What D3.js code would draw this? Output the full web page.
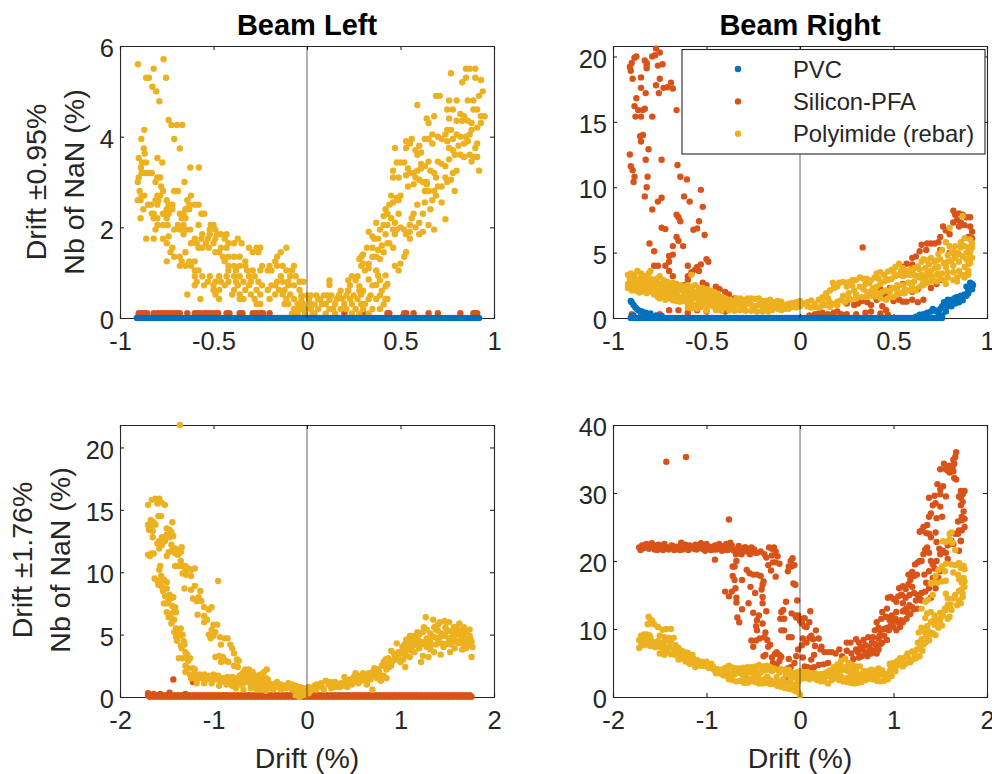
<!DOCTYPE html>
<html>
<head>
<meta charset="utf-8">
<script src="https://cdn.jsdelivr.net/npm/d3@7"></script>
<style>
  html, body { margin: 0; padding: 0; background: #fff; }
  svg { display: block; font-family: "Liberation Sans", Arial, sans-serif; }
</style>
</head>
<body>
<svg id="chart" width="992" height="774"></svg>
<script>
const seriesNames = ["PVC", "Silicon-PFA", "Polyimide (rebar)"];
const seriesColors = ["#0072BD", "#D95319", "#EDB120"];

const ticksSmallDrift = [-1, -0.5, 0, 0.5, 1];
const ticksLargeDrift = [-2, -1, 0, 1, 2];

// Beam Left, drift +-0.95
const leftSmallPvcX = [-.91,-.895,-.88,-.865,-.85,-.835,-.82,-.805,-.79,-.775,-.76,-.745,-.73,-.715,-.7,-.685,-.67,-.655,-.64,-.625,-.61,-.595,-.58,-.565,-.55,-.535,-.52,-.505,-.49,-.475,-.46,-.445,-.43,-.415,-.4,-.385,-.37,-.355,-.34,-.325,-.31,-.295,-.28,-.265,-.25,-.235,-.22,-.205,-.19,-.175,-.16,-.145,-.13,-.115,-.1,-.085,-.07,-.055,-.04,-.025,-.01,.005,.02,.035,.05,.065,.08,.095,.11,.125,.14,.155,.17,.185,.2,.215,.23,.245,.26,.275,.29,.305,.32,.335,.35,.365,.38,.395,.41,.425,.44,.455,.47,.485,.5,.515,.53,.545,.56,.575,.59,.605,.62,.635,.65,.665,.68,.695,.71,.725,.74,.755,.77,.785,.8,.815,.83,.845,.86,.875,.89,.905,.92];
const leftSmallSiliconX = [-.9,-.885,-.87,-.855,-.82,-.8,-.785,-.77,-.755,-.74,-.725,-.71,-.695,-.68,-.64,-.6,-.585,-.57,-.55,-.535,-.52,-.505,-.49,-.475,-.43,-.415,-.36,-.345,-.29,-.27,-.25,-.235,-.2,.2,.3,.43,.44,.52,.53,.57,.65,.7,.82,.89,.9,.91];
const leftSmallSiliconY = .107;
const leftSmallPoly = [
  [-.904,5.6],[-.82,5.5],[-.767,5.71],[-.86,5.3],[-.845,5.3],[-.754,5.3],[-.827,5.1],[-.806,5],[-.79,4.78],[-.74,4.37],[-.725,4.26],[-.695,4.26],[-.667,4.26],[-.87,4.15],[-.886,3.95],[-.71,3.95],[-.873,3.74],[-.68,3.74],[-.868,3.63],[-.9,3.53],[-.8,3.53],[-.882,3.43],[-.774,3.43],[-.86,3.43],[-.888,3.32],[-.624,3.32],[-.578,3.32],
  [-.9,3.1],[-.905,3],[-.885,3.2],[-.87,3.2],[-.855,3.2],[-.84,3.2],[-.83,3.2],[-.8,3.1],[-.785,3.1],[-.81,3],[-.655,3],[-.78,2.9],[-.895,2.8],[-.77,2.8],[-.71,2.8],[-.69,2.8],[-.885,2.7],[-.87,2.7],[-.8,2.7],[-.785,2.7],[-.62,2.7],
  [-.905,2.6],[-.89,2.6],[-.81,2.6],[-.795,2.6],[-.75,2.6],[-.64,2.6],[-.74,2.5],[-.72,2.5],[-.85,2.5],[-.835,2.5],[-.8,2.5],[-.63,2.5],[-.6,2.5],[-.58,2.5],[-.875,2.4],[-.75,2.4],[-.72,2.4],[-.65,2.4],[-.63,2.4],[-.83,2.3],[-.82,2.3],[-.77,2.3],[-.74,2.3],[-.68,2.3],[-.66,2.3],[-.565,2.3],[-.55,2.3],
  [-.89,2.2],[-.82,2.2],[-.8,2.2],[-.75,2.2],[-.67,2.2],[-.65,2.2],[-.8,2.05],[-.77,2.05],[-.745,2.05],[-.69,2.05],[-.66,2.05],[-.58,2.05],[-.515,2.05],[-.5,2.05],[-.81,1.95],[-.71,1.95],[-.68,1.95],[-.65,1.95],[-.625,1.95],[-.52,1.95],[-.49,1.95],[-.56,1.85],[-.52,1.85],[-.48,1.85],[-.46,1.85],[-.43,1.85],
  [-.86,1.75],[-.82,1.75],[-.77,1.75],[-.74,1.8],[-.66,1.85],[-.6,1.75],[-.565,1.75],[-.53,1.75],[-.49,1.75],[-.44,1.75],[-.37,1.75],[-.62,1.65],[-.59,1.65],[-.54,1.65],[-.5,1.65],[-.42,1.65],[-.39,1.65],[-.35,1.65],
  [-.75,1.65],[-.72,1.55],[-.58,1.55],[-.56,1.55],[-.525,1.55],[-.46,1.55],[-.43,1.55],[-.31,1.55],[-.27,1.55],[-.25,1.55],[-.73,1.45],[-.65,1.45],[-.49,1.45],[-.47,1.45],[-.26,1.45],[-.29,1.45],[-.11,1.55],[-.14,1.45],
  [-.71,1.35],[-.68,1.35],[-.45,1.35],[-.42,1.35],[-.39,1.35],[-.36,1.35],[-.16,1.35],[-.75,1.25],[-.67,1.25],[-.63,1.25],[-.6,1.25],[-.44,1.25],[-.33,1.25],[-.17,1.25],[-.68,1.15],[-.65,1.15],[-.62,1.15],[-.42,1.15],[-.39,1.15],[-.36,1.15],[-.33,1.15],[-.24,1.15],[-.2,1.15],[-.16,1.15],[-.13,1.15],[-.07,1.15],
  [-.6,1.05],[-.58,1.05],[-.42,1.05],[-.38,1.05],[-.32,1.05],[-.29,1.05],[-.25,1.05],[-.21,1.05],[-.19,1.05],[-.11,1.05],[-.08,1.05],[-.6,.92],[-.56,.92],[-.52,.92],[-.47,.92],[-.43,.92],[-.39,.92],[-.36,.92],[-.31,.92],[-.28,.92],[-.14,.92],[-.09,.92],[-.06,.92],
  [-.59,.8],[-.53,.8],[-.49,.8],[-.46,.8],[-.42,.8],[-.38,.8],[-.34,.8],[-.3,.8],[-.26,.8],[-.16,.8],[-.13,.8],[-.1,.8],[-.04,.8],[-.02,.8],[-.6,.72],[-.55,.72],[-.5,.72],[-.44,.72],[-.37,.72],[-.31,.72],[-.24,.72],[-.19,.72],[-.17,.72],[-.1,.72],[-.07,.72],
  [-.5,.62],[-.47,.62],[-.39,.62],[-.33,.62],[-.27,.62],[-.21,.62],[-.15,.62],[-.12,.62],[-.04,.62],[-.49,.52],[-.4,.52],[-.36,.52],[-.3,.52],[-.25,.52],[-.17,.52],[-.13,.52],[-.09,.52],[-.03,.5],[0,.5],[.02,.5],[-.64,.52],[-.57,.42],[-.47,.42],[-.36,.42],[-.34,.42],[-.28,.42],[-.2,.42],[-.11,.42],[-.07,.42],[-.03,.42],[.01,.42],[-.27,.31],[-.25,.31],[-.12,.31],[-.1,.31],[-.05,.31],[-.02,.31],[.02,.31],[-.07,.2],[-.05,.2],[-.03,.2],[-.01,.2],[.02,.2],[-.08,.1],[-.05,.1],[-.01,.1],[.03,.1],
  [.05,.5],[.07,.4],[.09,.5],[.1,.31],[.12,.4],[.13,.5],[.14,.2],[.15,.31],[.16,.42],[.17,.5],[.18,.6],[.19,.42],[.2,.31],[.21,.5],[.22,.6],[.23,.42],[.24,.31],[.25,.5],[.26,.2],[.27,.42],[.28,.6],[.29,.31],[.04,.1],[.06,.2],[.08,.31],[.1,.1],[.12,.2],[.15,.1],[.18,.2],[.21,.2],[.24,.1],[.28,.1],[.3,.2],[.31,.31],[.11,.5],[.12,.73],[.12,.83],[.06,.42],[.04,.3],
  [.22,.6],[.23,.72],[.22,.83],[.24,.92],[.26,.83],[.27,.92],[.28,.7],[.3,.6],[.31,1.05],[.29,.52],[.33,.85],[.35,.72],[.33,.42],[.34,.5],[.35,.2],[.33,.1],[.37,.42],[.39,.5],[.4,.6],[.41,.3],[.42,.42],[.39,.2],[.37,.73],[.39,.83],[.38,.94],[.42,.94],[.43,.42],[.42,.7],[.43,.75],[.37,1.05],[.33,1.2],[.28,1.3],[.29,1.35],[.3,1.4],[.3,1.2],[.33,1.1],[.35,1.35],[.35,1.55],[.32,1.55],[.29,1.15],[.33,1.9],[.35,1.8],[.36,1.75],[.38,1.75],[.37,2.1],[.39,1.95],[.41,2.05],[.43,2.05],[.42,1.85],[.4,1.6],[.38,1.5],[.37,1.35],[.39,1.3],[.41,1.45],[.43,1.65],[.44,1.65],[.46,1.95],[.47,1.15],[.49,1.05],[.5,1.2],[.52,1.35],[.46,1.55],[.48,1.95],[.47,1.85],[.53,1.45],
  [.42,2.4],[.44,2.5],[.46,2.55],[.43,2.3],[.45,2.2],[.47,2.1],[.41,2.25],[.45,2.7],[.48,2.65],[.49,2.6],[.5,2.7],[.49,2.3],[.5,2],[.52,1.95],[.53,1.85],[.55,1.9],[.55,2.05],[.56,2.2],[.57,2.3],[.58,2],[.6,2.1],[.62,1.9],[.65,2.05],[.68,1.95],[.6,1.85],[.55,1.75],[.54,2.9],[.59,2.5],[.57,2.95],[.62,2.3],[.66,2.4],[.63,2.55],[.65,2.8],[.63,2.8],[.68,2.8],[.7,2.9],[.72,2.9],[.69,2.7],[.72,2.55],[.74,2.18],[.67,2.6],[.64,2.95],
  [.46,3.1],[.46,3.25],[.48,3.43],[.5,3.43],[.52,3.43],[.54,3.3],[.55,3.2],[.57,3.2],[.49,3.1],[.47,3.75],[.53,3.75],[.53,3.15],[.58,3.1],[.59,3.25],[.6,3.05],[.61,3.3],[.62,3],[.64,3],[.61,3.4],[.63,3.35],[.65,3.45],[.66,3.25],[.68,3.2],[.69,3.1],[.7,3.45],[.72,3.4],[.74,3.35],[.74,3.1],[.75,3],[.77,3.05],[.79,2.8],[.78,3.2],[.8,3.25],[.76,3.5],[.79,3.6],[.82,3.6],[.84,3.55],[.76,3.75],[.78,3.7],[.81,3.8],
  [.53,3.9],[.55,3.85],[.56,3.95],[.58,3.7],[.6,3.8],[.59,3.6],[.61,3.65],[.63,3.95],[.65,3.95],[.67,3.85],[.67,4.05],[.7,4],[.72,3.95],[.74,4.05],[.75,3.9],[.78,3.95],[.8,4.05],[.82,4],[.85,4],[.86,3.9],[.87,3.6],[.89,3.55],[.88,3.45],[.91,3.55],[.92,3.25],[.9,3.75],[.91,3.85],[.88,4.15],[.91,4.2],[.93,4.3],
  [.59,4.7],[.64,4.4],[.65,4.3],[.68,4.45],[.69,4.9],[.71,4.9],[.76,4.4],[.75,4.15],[.77,4.15],[.76,4.8],[.75,4.6],[.78,4.6],[.8,4.8],[.82,4.5],[.84,4.45],[.8,4.35],[.83,4.35],[.86,4.35],[.88,4.3],[.89,4.6],[.91,4.6],[.93,4.45],[.95,4.45],[.86,4.8],[.89,4.8],[.92,4.9],[.94,5],[.77,5.4],[.85,5.3],[.87,5.5],[.83,5.2],[.9,5.3],[.93,5.25],[.9,5.5],[.85,5.5],[.87,4.05],[.84,3.85]
];

// Beam Right, drift +-0.95
const rightSmallPvcFlatX = [-.905,-.89,-.875,-.86,-.845,-.83,-.815,-.8,-.785,-.77,-.755,-.74,-.725,-.71,-.695,-.68,-.665,-.65,-.635,-.62,-.605,-.59,-.575,-.56,-.545,-.53,-.515,-.5,-.485,-.47,-.455,-.44,-.425,-.41,-.395,-.38,-.365,-.35,-.335,-.32,-.305,-.29,-.275,-.26,-.245,-.23,-.215,-.2,-.185,-.17,-.155,-.14,-.125,-.11,-.095,-.08,-.065,-.05,-.035,-.02,-.005,.01,.025,.04,.055,.07,.085,.1,.115,.13,.145,.16,.175,.19,.205,.22,.235,.25,.265,.28,.295,.31,.325,.34,.355,.37,.385,.4,.415,.43,.445,.46,.475,.49,.505,.52,.535,.55,.565,.58,.595,.61,.625,.64,.655,.67,.685,.7,.715,.73,.745,.76];
const rightSmallPvc = [
  [-.905,1.3],[-.9,1.2],[-.89,1],[-.88,.8],[-.87,.65],[-.86,.55],[-.845,.5],[-.825,.4],[-.8,.35],[-.77,.2],[-.74,.15],[-.9,.1],[-.89,.2],
  [.62,.1],[.64,.25],[.66,.3],[.68,.4],[.7,.5],[.71,.7],[.72,.6],[.73,.5],[.74,.45],[.75,.7],[.76,.9],[.77,1.2],[.78,1.2],[.79,.9],[.78,.5],[.76,.2],[.79,1.4],[.8,1.1],[.81,1.4],[.82,1.3],[.83,1.55],[.84,1.6],[.85,1.5],[.86,1.7],[.87,1.6],[.88,1.8],[.89,2.4],[.9,1.9],[.89,1.7],[.9,2.1],[.91,2.7],[.92,2.6],[.925,2.5],[.92,2.2],[.91,2.35],[.85,1.2],[.87,1.35],[.83,1.1],[.81,.9]
];
const rightSmallSilicon = [
  [-.91,19.2],[-.905,18.9],[-.9,19.5],[-.895,18.3],[-.885,19.9],[-.875,20],[-.85,18.4],[-.85,17.6],[-.83,19.7],[-.82,19.3],[-.82,19.1],[-.82,19.5],[-.79,20],[-.775,20.1],[-.77,20.6],[-.75,20.3],[-.76,19.3],[-.735,19.4],[-.75,18.3],[-.77,17.8],[-.755,17.2],[-.73,17.6],[-.71,17.65],[-.69,18],[-.68,17.55],[-.66,15.9],
  [-.875,16.8],[-.825,17.2],[-.885,16.2],[-.865,15.9],[-.84,15.9],[-.83,16],[-.88,15.4],[-.85,15.4],[-.79,15.4],[-.855,13.9],[-.84,14],[-.85,13.5],[-.81,12.9],[-.91,12.5],[-.825,12.1],[-.74,12.1],[-.905,11.6],[-.895,11.3],[-.885,10.8],[-.815,10.8],[-.89,10.4],[-.82,10],[-.655,11.7],[-.64,10.8],[-.605,10.6],[-.53,9.8],[-.62,9.3],[-.83,9.3],[-.74,9.2],[-.76,8.9],[-.59,8.9],[-.52,8.5],[-.79,8.3],[-.66,7.9],[-.65,7.7],[-.64,7.4],[-.54,7.4],[-.57,6.75],[-.55,6.85],[-.74,6.9],[-.72,6.8],[-.66,6.2],[-.65,5.9],[-.68,5.5],[-.625,5.5],[-.51,6.35],[-.805,5.7],[-.78,5.1],[-.7,4.75],[-.68,4.85],
  [-.78,4],[-.76,4],[-.72,4],[-.7,4.3],[-.5,4.5],[-.49,4.3],[-.6,4],[-.55,3.9],[-.56,3.7],[-.53,4.1],[-.6,3.2],[-.58,3.5],[-.54,3.6],[-.7,3.6],[-.68,3.2],[-.52,2.7],[-.5,2.5],[-.6,2.9],[-.62,2.5],[-.45,2.4],[-.43,2.2],[-.4,2],[-.38,1.8],[-.35,1.5],[-.32,1.3],[-.65,.6],[-.6,.4],[-.55,.6],[-.7,.6],[-.75,.3],[-.85,.3],[-.9,.3],[-.5,.5],[-.4,.5],
  [.335,5.4],[.82,8.2],[.83,7.9],[.85,8],[.87,7.9],[.89,7.7],[.91,7.7],[.84,7.5],[.86,7.3],[.88,7.1],[.82,7.3],[.85,7],[.91,7],[.92,6.6],[.9,6.2],[.92,6.1],[.765,7],[.78,6.7],[.8,6.4],[.75,6.2],[.74,5.8],[.72,5.7],[.7,5.7],[.68,5.7],[.65,5.6],[.675,5.2],[.64,5.1],[.62,4.7],[.6,4.6],[.57,4.15],[.6,4.1],[.55,3.9],[.75,5.2],[.8,5],[.83,4.7],
  [.27,1.4],[.25,1.1],[.29,1],[.31,1.1],[.33,1.3],[.36,1.2],[.38,1],[.41,1.4],[.44,1.6],[.46,1.9],[.43,2.2],[.48,2.3],[.5,1.3],[.53,1.4],[.55,1.25],[.57,1.25],[.6,1.4],[.63,1.2],[.66,1.4],[.44,.9],[.46,.6],[.43,.35],[.38,.5],[.35,.4],[.1,.35],[.15,.3],[.18,.4],[.22,.3],[.3,.3],[.05,.2],[.08,.3],[.12,.4],[.2,.5],[.25,.3],[.47,.25],[.52,2.4],[.55,2.6],[.6,2],[.63,2.2],[.66,2.6],[.7,2.3],[.73,2.6],[.76,2.9]
];
const rightSmallPoly = [
  [-.92,3.3],[-.905,3.4],[-.885,3.3],[-.87,3.6],[-.85,3.4],[-.83,3.2],[-.81,3.4],[-.8,3.6],[-.91,3],[-.895,3],[-.875,2.9],[-.855,3],[-.84,2.9],[-.82,3],[-.8,3],[-.785,2.9],[-.765,3],[-.75,3.2],[-.73,2.9],[-.71,2.75],[-.92,2.6],[-.9,2.7],[-.88,2.6],[-.86,2.7],[-.84,2.5],[-.82,2.6],[-.8,2.6],[-.78,2.5],[-.76,2.6],[-.74,2.6],[-.72,2.5],[-.7,2.6],[-.68,2.7],[-.66,2.6],[-.64,2.5],[-.62,2.4],[-.6,2.5],[-.58,3.3],[-.92,2.3],[-.9,2.3],[-.88,2.1],[-.86,2.3],[-.84,2.2],[-.82,2.3],[-.8,2.2],[-.78,2.3],[-.76,2.1],[-.74,2.3],[-.72,2.2],[-.7,2.3],[-.68,2.1],[-.66,2.3],[-.64,2.3],[-.62,2.3],[-.6,2.2],[-.58,2.4],[-.56,2.5],[-.54,2.3],[-.52,2.3],[-.5,2.2],[-.48,2.1],[-.46,2],[-.44,1.85],[-.42,1.6],[-.4,1.5],
  [-.85,2],[-.82,1.9],[-.78,1.8],[-.76,1.9],[-.74,1.7],[-.72,1.8],[-.7,1.9],[-.68,1.9],[-.66,1.8],[-.64,1.6],[-.62,1.8],[-.6,1.5],[-.58,1.7],[-.56,1.7],[-.54,1.8],[-.52,1.7],[-.5,1.7],[-.48,1.8],[-.46,1.7],[-.44,1.5],[-.42,1.3],[-.4,1.2],[-.75,1.5],[-.72,1.4],[-.7,1.5],[-.68,1.35],[-.66,1.3],[-.64,1.25],[-.62,1.3],[-.6,1.1],[-.58,1],[-.56,1],[-.54,1.25],[-.52,1.1],[-.5,1],[-.48,.95],[-.46,1.2],[-.44,1],[-.42,.9],[-.4,.85],
  [-.38,1.4],[-.36,1.3],[-.34,1.5],[-.32,1.5],[-.3,1.4],[-.28,1.5],[-.26,1.5],[-.24,1.45],[-.22,1.5],[-.2,1.3],[-.18,1.3],[-.16,1.4],[-.14,1.2],[-.12,1.3],[-.1,1.25],[-.38,1],[-.36,.9],[-.34,1.1],[-.32,1],[-.3,.9],[-.28,1.1],[-.26,1],[-.24,.9],[-.22,1],[-.2,.8],[-.18,.9],[-.16,.8],[-.14,.75],[-.12,.7],[-.1,.6],[-.08,1],[-.06,1.1],[-.04,1.15],[-.02,1.2],[-.08,.7],[-.06,.7],[-.04,.85],[-.02,.8],[-.38,.6],[-.35,.55],[-.32,.6],[-.29,.55],[-.26,.55],[-.23,.5],[-.2,.5],[-.17,.5],[-.5,.55],[-.45,.6],[-.42,.55],[-.55,.7],[-.6,.8],
  [-.9,2.1],[-.88,2.4],[-.86,1.95],[-.83,2.7],[-.8,2.8],[-.77,2.8],[-.72,2.7],[-.69,2.4],[-.66,2],[-.63,2.1],[-.6,1.9],[-.57,2],[-.54,2],[-.51,1.9],[-.48,1.5],[-.45,1.4],[-.42,1.1],[-.39,1.2],[-.7,2.05],[-.73,2],[-.76,1.6],[-.8,2.05],[-.68,1.6],[-.65,1.45],[-.62,1.55],[-.58,1.4],[-.55,1.5],[-.52,1.4],[-.49,1.3],[-.46,.9],[-.43,.75],[-.53,.85],[-.58,.75],[-.35,.75],[-.3,.7],[-.25,.75],[-.2,.65],[-.15,.6],[-.12,1],[-.1,.95],[-.33,1.25],[-.27,1.25],[-.21,1.2],[-.15,1],[-.3,1.2],[-.38,1.2],
  [0,.9],[0,1.3],[.02,1.1],[.04,1.2],[.06,1.35],[.08,1.1],[.1,1.4],[.12,1.6],[.14,1.9],[.16,2.1],[.176,2.7],[.19,2.5],[.21,2.7],[.23,2.75],[.25,2.7],[.267,2.76],[.28,2.9],[.3,2.9],[.32,3.1],[.34,3],[.356,3],[.38,2.9],[.4,3.1],[.41,3.4],[.43,3.5],[.45,3.3],[.47,3.55],[.49,3.7],[.51,3.9],[.53,4.15],[.55,3.8],[.57,3.6],[.59,3.7],[.61,3.8],[.63,3.95],[.65,4.3],[.66,4.5],[.68,4.4],[.7,4.6],[.72,4.3],[.74,4.9],[.76,5.2],[.78,5.8],[.8,5.5],[.82,5.1],[.84,5],[.86,5.4],[.88,6.1],[.91,6],[.92,5.7],[.87,7.8],[.8,6.9],
  [.04,.9],[.06,.8],[.08,.85],[.1,.8],[.12,.95],[.14,1],[.16,.86],[.18,1.05],[.2,1.25],[.22,1.37],[.23,1.7],[.26,1.9],[.29,2.1],[.32,2.4],[.34,2.2],[.37,2],[.39,2.3],[.41,2.4],[.43,2.6],[.45,2.8],[.47,2.9],[.49,3],[.51,3.2],[.53,3.3],[.55,3.2],[.57,3.3],[.59,3.3],[.61,3.3],[.63,3.2],[.65,3.3],[.68,3.4],[.7,3.6],[.72,3.8],[.74,3.9],[.77,4.2],[.79,4.3],[.81,4.4],[.83,4.6],[.85,4.9],[.87,4.7],[.89,5],[.91,5.1],[.92,5.4],
  [.24,1.2],[.27,1.4],[.3,1.5],[.33,1.6],[.356,1.6],[.38,1.7],[.4,1.65],[.43,1.5],[.46,1.4],[.48,1.6],[.5,1.6],[.52,1.8],[.54,1.9],[.56,1.9],[.58,2.1],[.6,2.1],[.62,2.1],[.64,2.4],[.66,2.5],[.68,2.7],[.71,2.9],[.73,2.8],[.75,3],[.77,2.9],[.79,3.1],[.82,2.9],[.84,3.1],[.86,3.3],[.88,3.3],[.9,3.6],[.91,4.2],[.92,4.6],[.9,4.1],[.88,3.9],[.85,3.6],[.82,3.5],[.79,3.5],[.76,3.4],[.73,3.3],[.7,3.2],[.67,3.1],[.64,3.1],[.61,2.8],[.58,2.7],[.55,2.5],[.52,2.5],[.49,2.3],[.46,2.1],[.43,1.9],
  [.12,1.2],[.15,1.5],[.18,2.3],[.2,2.4],[.25,2.4],[.28,2.5],[.35,2.6],[.37,2.7],[.42,3],[.46,3],[.5,3.5],[.54,3.6],[.6,3.5],[.64,3.7],[.67,3.8],[.69,4.1],[.73,4.4],[.75,4.5],[.79,4.8],[.81,5],[.83,5.5],[.86,5.8],[.88,5.5],[.9,5.4],[.91,4.7],[.89,4.5],[.85,4.3],[.82,4],[.78,3.9],[.74,3.4],[.7,2.8],[.66,2.8],[.6,2.4],[.56,2.2],[.52,2.1],[.48,2],[.44,2],[.4,2],[.36,1.9],[.3,1.8],[.26,1.5],[.2,1],[.16,1.2],[.78,2.6],[.84,2.8],[.88,3.1],[.9,3.3]
];

// Beam Left, drift +-1.76
const leftLargeSiliconLowX = [-1.68,-1.64,-1.6,-1.56,-1.52,-1.48,-1.44,-1.4,-1.36,-1.32,-1.28,-1.24,-1.2,-1.16,-1.12,-1.08,-1.04,-1,-.96,-.92,-.88,-.84,-.8,-.76,-.72,-.68,-.64,-.6,-.56,-.52,-.48,-.44,-.4,-.36,-.32,-.28,-.24,-.2,-.16,-.12,-.08,-.04,0,.04,.08,.12,.16,.2,.24,.28,.32,.36,.4,.44,.48,.52,.56,.6,.64,.68,.72,.76,.8,.84,.88,.92,.96,1,1.04,1.08,1.12,1.16,1.2,1.24,1.28,1.32,1.36,1.4,1.44,1.48,1.52,1.56,1.6,1.64,1.68,1.72,1.76];
const leftLargeSiliconHighX = [-1.7,-1.66,-1.62,-1.58,-1.54,-1.5,-1.46,-1.42,-1.38,-1.34,-1.3,-1.26,-1.22,-1.18,-1.14,-1.1,-1.06,-1.02,-.98,-.94,-.9,-.86,-.82,-.78,-.74,-.7,-.66,-.62,-.58,-.54,-.5,-.46,-.42,-.38,-.34,-.3,-.26,-.22,-.18,-.14,-.1,-.06,-.02,.02,.06,.1,.14,.18,.22,.26,.3,.34,.38,.42,.46,.5,.54,.58,.62,.66,.7,.74,.78,.82,.86,.9,.94,.98,1.02,1.06,1.1,1.14,1.18,1.22,1.26,1.3,1.34,1.38,1.42,1.46,1.5,1.54,1.58,1.62,1.66,1.7,1.74];
const leftLargeSiliconOutliers = [[-1.43,1.4],[-1.22,1.2],[-1.7,.3],[-1.64,.25],[-1.57,.25],[-1.47,.35],[-1.3,.25]];
const leftLargePoly = [
  [-1.36,21.8],[-1.7,15.4],[-1.66,15.8],[-1.62,15.9],[-1.58,15.9],[-1.56,15.6],[-1.52,15.4],[-1.6,15.5],[-1.67,14.2],[-1.64,14],[-1.7,13.8],[-1.66,13.7],[-1.62,13.8],[-1.69,13.4],[-1.65,13.3],[-1.59,14.5],[-1.56,14.5],[-1.65,12.8],[-1.55,12.8],[-1.5,13.5],[-1.47,13.4],[-1.45,13.2],[-1.5,13],[-1.47,12.8],[-1.43,12.9],[-1.55,12.2],[-1.6,12.3],[-1.58,12.5],[-1.52,12.5],[-1.45,12.2],[-1.41,11.9],[-1.38,11.8],[-1.34,12],[-1.35,11.6],[-1.38,11.4],[-1.41,11.5],[-1.45,11.7],[-1.48,11.6],[-1.5,11.3],[-1.7,11.4],[-1.68,11.3],[-1.66,11.5],[-1.64,11.5],[-1.58,11.9],[-1.44,14],[-1.35,10.9],[-1.41,10.5],[-1.37,10.5],[-1.33,10.5],[-1.3,10.5],[-1.27,10.3],[-1.24,10.2],[-1.2,10.3],[-1.3,10.2],[-1.57,10.5],[-1.58,10.2],[-1.6,9.3],[-1.56,9.7],[-1.53,9.4],[-1.5,9.2],[-1.57,9.2],[-1.55,8.8],[-1.5,8.7],[-1.47,8.2],[-1.43,8],[-1.48,7.8],[-1.53,7.5],[-1.49,7.5],[-1.44,7.3],[-1.41,7.2],[-1.43,6.8],[-1.4,6.8],[-1.46,6.5],[-1.48,6.4],[-1.45,5.9],[-1.4,5.5],[-1.35,5.5],[-1.42,5.2],[-1.38,5],[-1.36,4.9],[-1.39,4.5],[-1.35,4.1],[-1.31,4.2],[-1.34,3.9],[-1.37,3.1],[-1.33,3.1],[-1.28,3.1],[-1.25,3.1],[-1.3,2.5],[-1.27,2.3],[-1.22,2.3],[-1.3,2],[-1.25,1.8],[-1.2,1.8],
  [-1.33,9.9],[-1.29,9.8],[-1.24,9.7],[-1.31,8.7],[-1.24,8.6],[-1.2,8.9],[-1.14,8.5],[-1.16,8],[-1.22,7.9],[-1.18,7.7],[-1.13,7.7],[-1.1,7.2],[-1.05,7],[-1.02,7.2],[-.95,9.3],[-1.17,6.6],[-1.1,6.5],[-1.07,6.2],[-1.1,6],[-1,5.8],[-.96,5.8],[-1.02,5.4],[-1.05,5],[-1,4.9],[-1.03,4.7],[-.98,5.2],[-.93,4.8],[-.88,4.7],[-.85,4.7],[-.92,4.2],[-.82,4.2],[-.8,3.9],[-.78,3.5],[-.98,3.2],[-.94,3.3],[-.9,3.2],[-.92,2.8],[-.87,2.9],[-.84,2.8],[-.75,3],[-.73,2.9],[-.78,2.5],[-.74,2.4],
  [-1.63,9.5],[-1.59,9],[-1.54,8.5],[-1.52,8.1],[-1.46,7.9],[-1.42,6.2],[-1.5,6.8],[-1.44,6.2],[-1.37,5.3],[-1.33,5],[-1.4,4.8],[-1.32,4.5],[-1.3,3.6],[-1.28,3.4],[-1.27,2.9],[-1.2,2.2],[-1.15,1.8],[-1.1,1.8],[-1.05,1.7],[-1,1.8],[-.95,1.7],[-.9,1.5],[-.85,1.6],[-.8,1.6],[-.75,1.2],[-.7,1.3],[-.65,1.5],[-.6,1.3],[-.55,1.1],[-.5,1.2],[-.45,1.2],[-.4,.7],[-.35,.8],[-.3,.8],[-.25,.7],[-.2,.8],[-.15,.7],[-.6,.9],[-.5,.6],[-.42,1.4],[-.48,1.6],[-.62,1.9],[-.56,1.6],[-.66,1.4],
  [-1.24,1.5],[-1.2,1.5],[-1.16,1.5],[-1.12,1.5],[-1.08,1.4],[-1.04,1.5],[-1,1.4],[-.96,1.4],[-.92,1.3],[-.88,1.2],[-.84,1.3],[-.8,1.2],[-.76,1.5],[-.72,1.7],[-.7,1.8],[-.68,2],[-.66,2.2],[-.62,2.2],[-.58,2],[-.54,1.7],[-.5,1.8],[-.46,2],[-.43,2.2],[-.68,1.6],[-.64,1.7],[-.6,1.6],[-.56,1.3],[-.52,1.4],[-.48,1.4],[-.44,1.5],[-1.18,1.1],[-1.1,1.1],[-1.02,1.1],[-.94,.9],[-.86,1],[-.8,.9],[-.76,.9],[-.72,1],[-.68,1.1],[-.64,1.2],[-.6,1.1],[-.56,1],[-.52,.9],[-.48,.9],[-.44,.8],[-.4,1.1],[-.36,1],[-.32,1.2],[-.28,1],[-.24,.9],[-.2,1.1],[-.16,1],[-.12,.9],[-.08,.8],[-.04,.7],[-.76,.7],[-.68,.6],[-.6,.7],[-.54,.6],[-.44,.5],[-.36,.6],[-.28,.6],[-.22,.7],[-.16,.6],[-.12,.5],[-.08,.5],[-.04,.4],[-.1,.3],[-.12,.15],[-.08,0],[-.06,.1],[-.02,.2],[.02,.3],[.04,.5],
  [0,.7],[.02,.8],[.05,.6],[.08,.9],[.1,.6],[.13,.9],[.16,.8],[.18,.6],[.2,1.3],[.23,1],[.26,.7],[.28,1.1],[.3,.8],[.33,.8],[.36,1.1],[.38,.9],[.41,1.2],[.44,1.2],[.46,1.4],[.48,1],[.43,.8],[.5,1.6],[.53,1.5],[.55,1.1],[.57,1.7],[.6,1.9],[.62,1.4],[.64,1],[.66,1.9],[.68,1.4],[.7,.6],[.7,2],[.72,2.3],[.75,1.5],[.77,2],[.79,1.3],[.8,2.5],[.82,2.8],[.84,3],[.85,2.2],[.87,3.1],[.85,1.5],[.88,2.4],[.9,3.7],[.92,2.9],[.94,3.3],[.96,4.3],[.98,3.6],[1,2.8],[1.02,4],[1.03,3],[1.05,2.4],[1.06,4.6],[1.08,3.8],[1.1,4.9],[1.1,3.2],[1.13,4.1],[1.15,3.6],[1.17,4.7],[1.18,5.2],[1.2,3.9],[1.22,2.8],[1.24,4.4],[1.25,5.6],[1.27,6.4],[1.28,4.7],[1.3,3.2],[1.32,5.1],[1.33,4.2],[1.35,6.2],[1.36,3.6],[1.38,5.4],[1.4,4.6],[1.42,6],[1.43,3.4],[1.45,5.1],[1.47,6.1],[1.48,4.2],[1.5,5.3],[1.52,6],[1.53,3.6],[1.55,4.6],[1.57,5.6],[1.58,3.9],[1.6,5],[1.62,4.3],[1.63,5.9],[1.65,4.7],[1.66,3.8],[1.68,5.6],[1.7,4.9],[1.72,4.2],[1.74,5.4],[1.75,4.6],[1.76,3.2],[1.77,4],
  [.95,3],[1,3.5],[1.05,3.4],[1.12,4.5],[1.15,4.2],[1.2,4.5],[1.24,3.3],[1.28,4],[1.32,4.4],[1.36,4.8],[1.4,5.3],[1.44,4.3],[1.48,4.9],[1.52,4.7],[1.56,4.9],[1.6,4.4],[1.64,5],[1.68,4.4],[1.72,4.7],[1.76,4.4],[1.74,4.9],[1.7,3.9],
  [.1,1],[.15,1.1],[.25,1.2],[.3,1.2],[.35,.8],[.4,1.6],[.45,1],[.5,1.2],[.52,1.9],[.55,1.4],[.58,1.3],[.6,1.5],[.62,1.7],[.65,1.4],[.68,1.8],[.72,1.7],[.74,1.9],[.76,2.2],[.78,1.6],[.82,1.7],[.85,2.5],[.88,2.9],[.9,2.5],[.93,3.5],[.96,3.4],[1,3],[1.02,3.6],[1.04,4.2],[1.06,3.3],[1.08,4.4],[1.1,4],[1.12,3.7],[1.14,4.9],[1.16,4.3],[1.18,4.2],[1.2,5],[1.22,4.2],[1.24,5.2],[1.26,4.2],[1.28,5.4],[1.3,4.6],[1.32,3.8],[1.34,4.9],[1.36,5.6],[1.38,4.2],[1.4,5.8],[1.42,4.8],[1.44,4.9],[1.46,4],[1.48,5.6],[1.5,4.3],[1.52,5.3],[1.54,4.2],[1.56,5.3],[1.58,4.6],[1.6,5.6],[1.62,5.2],[1.64,4.4],[1.66,5.4],[1.68,4],[1.7,5.2],[1.72,4.4]
];

// Beam Right, drift +-1.76
const rightLargeSiliconBandX = [-1.72,-1.69,-1.66,-1.63,-1.6,-1.57,-1.54,-1.51,-1.48,-1.45,-1.42,-1.39,-1.36,-1.33,-1.3,-1.27,-1.24,-1.21,-1.18,-1.15,-1.12,-1.09,-1.06,-1.03,-1,-.97,-.94,-.91,-.88,-.85,-.82,-.79,-.76,-.73,-.7,-.67,-.64,-.61,-.58,-.55,-.52,-.49];
const rightLargeSiliconBandY = [22,22.3,22,22.4,22.2,22,22.3,22.4,22,22.5,22,21.9,22.2,21.8,22.1,22.7,22,22,22.3,22,22.4,22.3,22.6,22.1,22.5,22.1,22,22.3,22,22.2,22.1,22.5,21.9,22.3,21.5,21.8,21.7,21.4,22,21.6,22,21.7];
const rightLargeSiliconBandLowY = [21.6,21.9,22.5,21.8,22.6,21.7,21.6,22,21.6,22,21.7,22.3,21.6,22.1,21.6,21.7,22.4,21.6,22,21.8,21.7,22,21.8,21.5,22,21.6,21.7,21.7,22.5,21.5,21.7,21.6,22.7,21.6,21,22.2,21,22,21.4,21,21.3,21.2];
const rightLargeSilicon = [
  [-1.43,34.6],[-1.22,35.3],[-.76,26.1],[-.91,20.2],[-.46,21.2],[-.42,21.4],[-.38,21],[-.36,20.5],[-.33,22],[-.3,21.8],[-.28,22],[-.26,21.4],[-.24,20.7],[-.3,20.8],[-.34,19.4],[-.29,19.8],[-.26,19.8],[-.22,19.6],[-.31,18.6],[-.26,17.7],
  [-.68,20],[-.7,19.2],[-.72,19.2],[-.72,17.8],[-.7,17.2],[-.62,17.2],[-.57,18.7],[-.54,18.2],[-.5,18],[-.46,18],[-.42,17.8],[-.4,16.5],[-.39,17],[-.41,15.8],[-.53,16.2],[-.48,15.3],[-.69,16],[-.73,15.5],[-.8,15.5],[-.76,14.8],[-.68,14.6],[-.68,13.9],[-.55,13.8],[-.4,14.7],[-.4,13.8],[-.62,12.9],[-.36,12.6],[-.5,12.4],[-.67,11.7],[-.65,11],[-.44,12],[-.46,11.3],[-.47,10.4],[-.46,9.8],[-.4,10.8],[-.37,9.5],[-.52,8.3],[-.47,8.3],[-.43,8.6],[-.38,8.8],[-.35,8.4],[-.32,7.7],[-.5,7.4],[-.34,7.4],
  [-.39,6],[-.37,6.2],[-.3,5.8],[-.27,6.3],[-.25,6.6],[-.22,6.2],[-.2,5.9],[-.29,5],[-.25,4.8],[-.22,5.3],[-.12,5.6],[-.13,4.2],[-.1,4.4],[-.06,5],[-.28,4.3],[-.15,3.3],[-.13,2.6],[-.11,2.4],[-.04,6],[-.02,7],
  [-.1,20],[-.08,20.4],[-.12,19.2],[-.09,19.2],[-.06,19.4],[-.13,18.5],[-.07,16.7],[-.05,16.5],[-.03,14.2],[-.15,14],[-.18,12.8],[-.2,12.5],[-.21,11.5],[-.17,11.5],[-.09,12.3],[-.05,12],[-.04,11.7],[-.02,12],[0,11.2],[.03,11.5],[.05,11.6],[.02,10.8],[.05,10.4],[.1,11],[.11,12.6],[.07,10.3],[.12,9],[.17,9.8],[-.2,9.8],[-.17,9.8],[-.12,8.8],[-.09,8.8],[.03,8.6],[.07,8],[.1,8.7],[.14,8.5],[.2,8.6],[.02,7.6],[.16,7.5],[.23,7.4],[.15,6.2],[.12,5.5],[.03,5.8],[.05,4.5],[.08,4.4],[.12,4.2],[.15,4.4],[.2,4.7],[.25,4.8],[.3,5],[.22,7],[.26,6.6],[.3,6.6],[.34,6.6],[.38,6.4],[.42,7],[.45,6],[.48,5.6],[.5,8],[.54,8],[.5,6.8],[.55,6.4],
  [.57,5.6],[.6,7],[.6,8.5],[.63,8],[.63,5.8],[.66,6],[.67,7],[.68,8.4],[.7,7.6],[.72,6],[.73,8.8],[.74,7.4],[.76,6.4],[.77,8],[.78,8.8],[.8,7.8],[.82,6.4],[.82,7.2],[.84,8.6],[.85,9],[.86,7.8],[.8,9.8],[.84,10.2],[.82,11],[.87,11.5],[.88,12.5],[.9,10],[.93,8.4],[.92,11.8],[.95,9.8],[.97,10.5],[.98,12],[1,10.3],[1.02,11.5],[1.05,11],[1.03,12.5],[1.08,11.3],[1.1,12.6],[1.12,12.8],[1.15,12.4],[1.18,12.2],[1.2,13.2],[1.22,12.9],[1.24,14.2],[1.26,13],[1.28,14.5],[1.3,15.3],[1.34,15.5],[1.38,16],[1.42,17.5],[1.44,18.9],[1.46,20],[1.5,21],[1.53,21.5],[1.56,21.2],[1.58,22.3],[1.62,23],[1.66,24],[1.7,24.5],[1.72,23],
  [.93,13],[.94,14.6],[.97,14.7],[1,14.4],[1.03,14],[1.05,14.8],[1.08,15],[1.1,16.3],[1.13,15.9],[1.06,16],[1.16,16.6],[1.18,17.2],[1.2,16.2],[1.22,17.8],[1.16,18],[1.25,18],[1.2,18.4],[1.23,19.5],[1.26,19.8],[1.28,20],[1.3,20],[1.34,21.7],[1.36,22],[1.32,21],[1.38,21.2],[1.4,23.5],[1.38,24],[1.35,24.1],[1.3,24.5],[1.28,24.3],[1.32,25],[1.36,25.3],[1.38,26.5],[1.4,27],[1.42,28.2],[1.45,28.5],[1.44,29.6],[1.38,29.3],[1.5,29.8],[1.53,31],[1.47,31.3],[1.5,30.5],[1.5,33.5],[1.54,34.3],[1.56,33.5],[1.58,33.3],[1.6,33],[1.6,34],[1.63,33.8],[1.64,33.2],[1.64,34.9],[1.67,36],[1.66,35.3],[1.65,34.3],[1.65,32.2],[1.67,32],[1.72,30.3],[1.76,30.3],[1.74,29.8],[1.72,29.3],[1.7,29.5],[1.74,28.7],[1.72,28.2],[1.75,27.3],[1.73,26.5],[1.76,26.2],[1.73,26],[1.69,25.8],[1.76,25],[1.73,24.5],[1.69,24],[1.72,22.9],[1.7,21.5],[1.64,22.5],[1.58,20.3],[1.5,18.5],[1.48,17.5],[1.45,16],[1.4,14.6],
  [.62,6.6],[.65,7.4],[.7,6.6],[.75,7],[.79,6.8],[.84,7],[.88,8],[.9,9],[.86,9.8],[.93,10.2],[.96,11.3],[.99,11],[1.03,9.8],[1.07,10.3],[1.1,11],[1.14,11.5],[1.17,13.5],[1.14,13],[1.1,13.8],[1.13,14.6],[1.09,15],[1.17,15],[1.22,15.3],[1.26,15],[1.3,14.2],[1.35,16.8],[1.33,18],[1.38,18.5],[1.42,19.5],[1.4,20],[1.46,22.8],[1.49,21.8],[1.45,24.2],[1.52,26.5],[1.46,26.3],[1.5,28],[1.56,29.5]
];
const rightLargePoly = [
  [-1.62,11.8],[-1.6,11.4],[-1.58,11.2],[-1.63,10.7],[-1.6,10.8],[-1.56,10.7],[-1.52,10.3],[-1.47,9.9],[-1.43,10],[-1.38,10],[-1.7,9],[-1.67,9.2],[-1.64,9.2],[-1.61,9.1],[-1.72,8.4],[-1.68,8.5],[-1.65,8.5],[-1.62,8.2],[-1.5,9],[-1.45,8.8],[-1.4,8.7],[-1.35,8.7],[-1.57,8.1],[-1.52,8.2],[-1.47,8],[-1.42,8.3],[-1.38,8],[-1.33,7.6],[-1.3,7.2],[-1.72,7.2],[-1.68,7.6],[-1.64,7.7],[-1.6,7.5],[-1.55,7.3],[-1.5,7.4],[-1.45,7.5],[-1.4,7.3],[-1.35,7],[-1.5,6.4],[-1.46,6.9],[-1.42,6.6],[-1.38,6.3],[-1.34,6.2],[-1.3,6.5],[-1.25,6.7],[-1.2,6.5],[-1.15,6.2],[-1.3,5.5],[-1.26,5.9],[-1.22,6],[-1.18,5.6],[-1.14,5.6],[-1.1,5.4],[-1.05,5.2],[-1,5.2],[-.95,4.9],[-1.22,5.2],[-1.18,4.9],[-1.12,4.4],[-1.08,4.9],[-1.03,4.6],[-.98,4.3],[-.93,4.5],[-.88,4.1],[-.84,4],[-.8,4.3],[-.76,4.6],[-.72,4.3],[-.68,4.2],[-.64,4.2],[-.6,4.3],[-.56,4.4],[-.52,4.4],[-.48,4.5],[-.44,4.7],[-.4,4.5],[-.36,4.6],[-.32,4.4],[-.28,4.2],[-.24,4],[-.2,4.1],[-.16,4],[-.12,4],
  [-1.28,5.8],[-1.24,5.5],[-1.16,5.2],[-1.12,5],[-1.06,4.6],[-1,4.6],[-.96,4.3],[-.9,3.9],[-.86,3.5],[-1.1,4.7],[-1.15,5.8],[-1.28,6.9],[-1.33,6.6],[-1.45,6.2],[-1.55,7.9],[-1.6,8.8],[-1.68,9],[-1.7,8],[-.92,4],[-.78,3.8],[-.7,3.7],[-.62,3.8],[-.55,4],[-.47,4],[-.4,4.1],[-.3,3.8],[-.22,3.6],[-.15,3.3],[-.1,2.7],[-.18,2.6],[-.25,2.9],[-.35,3],[-.45,3.2],
  [-.9,3.5],[-.86,3.7],[-.82,3.2],[-.78,3.1],[-.74,3.4],[-.7,3.3],[-.66,3.6],[-.62,3.4],[-.58,3.5],[-.54,3.6],[-.5,3.6],[-.46,3.7],[-.42,3.6],[-.38,3.9],[-.34,4],[-.82,3.6],[-.76,2.6],[-.72,2.5],[-.68,2.3],[-.64,2.4],[-.6,2.1],[-.56,2.1],[-.52,2.3],[-.48,2.2],[-.44,2],[-.4,2],[-.36,2.1],[-.32,1.9],[-.28,1.9],[-.24,1.6],[-.2,1.5],[-.16,1.3],[-.12,1.2],[-.08,1.1],[-.05,.9],[-.02,.7],[0,.3],[-.6,2.8],[-.56,2.7],[-.5,2.8],[-.44,2.7],[-.38,2.6],[-.32,2.5],[-.26,2.3],[-.2,2.3],[-.15,2.1],[-.1,2],[-.06,1.8],[-.03,1.5],[-.12,3.5],[-.08,3.5],[-.04,3.6],[-.08,3],[-.04,2.8],[-.02,2.2],[-.02,3.5],
  [0,3.8],[.04,3.6],[.08,3.7],[.12,3.5],[.16,3.5],[.2,3.3],[.24,3.4],[.28,3.6],[.32,3.9],[.36,4.4],[.4,4.8],[.44,5.3],[.48,5.6],[.52,5],[.56,4.7],[.6,4.5],[.64,4.5],[.68,3.8],[.72,3.8],[.76,4],[.8,3.9],[.84,4.2],[.88,3.9],[.92,3.3],[.96,4.9],[1,5],[.02,2.7],[.06,2.8],[.1,2.6],[.14,2.8],[.18,2.5],[.22,2.3],[.26,2.3],[.3,2],[.34,2.5],[.38,2.8],[.42,2.5],[.46,2.3],[.5,2.2],[.54,2.1],[.58,2],[.62,2.1],[.66,2.2],[.7,2.5],[.74,2.7],[.78,2.6],[.82,2.4],[.86,2.3],[.9,2.4],[.94,2.6],[.98,3.1],[.96,3.8],[.18,3.3],[.24,3],[.3,3.1],[.36,3.2],[.42,3.6],[.46,4],[.5,3.9],[.54,3.5],[.58,3.3],[.62,3.2],[.66,3.3],[.72,3.1],[.78,3.1],[.84,3.2],[.9,3.1],
  [.04,3.1],[.1,3.2],[.14,3.2],[.2,2.8],[.26,2.8],[.33,3.3],[.4,4.1],[.44,4.5],[.5,4.5],[.56,4],[.6,3.8],[.64,2.7],[.7,3],[.75,3.4],[.82,3.5],[.88,3.5],[.92,2.8],[1.02,3.8],[.97,4.3],[.5,2.8],[.55,2.9],[.6,2.6],[.44,3],[.38,3.7],
  [1.02,4.2],[1.04,5.3],[1.07,5.7],[1.1,4.5],[1.12,5.8],[1.15,6.4],[1.18,5.1],[1.2,6.7],[1.23,6.1],[1.25,7],[1.2,5.5],[1.26,8],[1.28,6],[1.3,8.5],[1.32,7.7],[1.35,8.9],[1.33,9.6],[1.27,9.5],[1.3,10.2],[1.38,9.6],[1.42,9.4],[1.45,9.1],[1.4,11],[1.36,10.4],[1.34,11.6],[1.36,12.3],[1.4,12.5],[1.42,11.2],[1.44,12],[1.47,11.2],[1.5,11.5],[1.53,12],[1.56,12.8],[1.58,13.5],[1.55,13],[1.5,10.9],[1.6,11.8],[1.61,13.6],[1.64,14.5],[1.66,15],[1.7,14.2],[1.74,14.7],[1.73,15.8],[1.76,16.2],[1.73,16.8],[1.76,17],[1.7,17.3],[1.7,15.6],[1.75,17.5],[1.69,18],[1.72,19],[1.75,19.3],[1.7,19.7],[1.76,18.8],[1.66,19.4],[1.62,19.5],[1.56,19.6],[1.52,19.2],[1.48,18.7],[1.45,17.8],[1.4,16.7],[1.43,16.9],[1.47,16.8],[1.52,17],[1.56,17.1],[1.42,15],[1.37,14.3],[1.34,14],[1.3,13],[1.56,15.2],[1.58,14.5],[1.55,18.5],[1.64,18.3],[1.66,21.6],[1.63,22.7],[1.56,22.8],[1.6,23.2],[1.6,24],[1.62,24.2],[1.53,22.9],
  [1.06,4.7],[1.09,5.3],[1.13,4.9],[1.16,5.7],[1.22,6.6],[1.24,5.7],[1.28,7.2],[1.31,6.8],[1.34,8],[1.38,8.3],[1.4,9.2],[1.44,10.6],[1.48,10.2],[1.52,10.5],[1.58,11.5],[1.62,12.8],[1.68,13.5],[1.72,13.8],[1.74,15.2],[1.5,12.4]
];

function silicon(xs, y) {
  return xs.map(x => [x, y]);
}

const panels = [
  { box: [120, 494, 46, 318], xTicks: ticksSmallDrift, yMax: 6, yTicks: [0, 2, 4, 6],
    silicon: silicon(leftSmallSiliconX, leftSmallSiliconY), poly: leftSmallPoly, pvc: silicon(leftSmallPvcX, 0) },
  { box: [613, 987, 46, 318], xTicks: ticksSmallDrift, yMax: 20.8, yTicks: [0, 5, 10, 15, 20],
    silicon: rightSmallSilicon, poly: rightSmallPoly, pvc: silicon(rightSmallPvcFlatX, 0).concat(rightSmallPvc) },
  { box: [120, 494, 425, 697], xTicks: ticksLargeDrift, yMax: 21.8, yTicks: [0, 5, 10, 15, 20],
    silicon: silicon(leftLargeSiliconLowX, .02).concat(silicon(leftLargeSiliconHighX, .15), leftLargeSiliconOutliers), poly: leftLargePoly, pvc: [] },
  { box: [613, 987, 425, 697], xTicks: ticksLargeDrift, yMax: 40, yTicks: [0, 10, 20, 30, 40],
    silicon: rightLargeSiliconBandX.map((x, i) => [x, rightLargeSiliconBandY[i]])
      .concat(rightLargeSiliconBandX.map((x, i) => [x + .015, rightLargeSiliconBandLowY[i]]), rightLargeSilicon),
    poly: rightLargePoly, pvc: [] }
];

const svg = d3.select("#chart");
const inkColor = "#262626";
const dotRadius = 3.2;

panels.forEach(p => {
  const [x0, x1, y0, y1] = p.box;
  const xScale = d3.scaleLinear().domain(d3.extent(p.xTicks)).range([x0, x1]);
  const yScale = d3.scaleLinear().domain([0, p.yMax]).range([y1, y0]);
  const g = svg.append("g");

  const tickFmt = d => String(d);
  const axes = [
    [d3.axisBottom(xScale).tickValues(p.xTicks).tickSize(-4).tickFormat(tickFmt), 0, y1],
    [d3.axisTop(xScale).tickValues(p.xTicks).tickSize(-4).tickFormat(""), 0, y0],
    [d3.axisLeft(yScale).tickValues(p.yTicks).tickSize(-4).tickFormat(tickFmt), x0, 0],
    [d3.axisRight(yScale).tickValues(p.yTicks).tickSize(-4).tickFormat(""), x1, 0]
  ];
  axes.forEach(([axis, tx, ty]) => {
    const a = g.append("g").attr("transform", `translate(${tx},${ty})`).call(axis);
    a.selectAll("path, line").attr("stroke", inkColor).attr("stroke-width", 1.1);
    a.selectAll("text").attr("fill", inkColor).attr("font-size", 25.5).attr("font-family", null);
  });

  // draw order seen in the picture: silicon, polyimide, then PVC on top
  [[p.silicon, seriesColors[1]], [p.poly, seriesColors[2]], [p.pvc, seriesColors[0]]].forEach(([pts, color]) => {
    g.append("g").selectAll("circle").data(pts).join("circle")
      .attr("cx", d => xScale(d[0]))
      .attr("cy", d => yScale(d[1]))
      .attr("r", dotRadius)
      .attr("fill", color);
  });

  g.append("line")
    .attr("x1", xScale(0)).attr("x2", xScale(0))
    .attr("y1", y1).attr("y2", y0)
    .attr("stroke", "#000").attr("stroke-opacity", .6).attr("stroke-width", 1);
});

// tick label placement, matlab sits them closer than d3 default
svg.selectAll(".tick text").each(function () {
  const t = d3.select(this);
  if (t.attr("y") && +t.attr("y") > 0) t.attr("y", 12).attr("dy", "0.8em");
  if (t.attr("x") && +t.attr("x") < 0) t.attr("x", -6).attr("dy", "0.42em");
});

const titles = [["Beam Left", 307], ["Beam Right", 800]];
svg.selectAll(".title").data(titles).join("text")
  .attr("class", "title")
  .attr("x", d => d[1]).attr("y", 35)
  .attr("text-anchor", "middle")
  .attr("font-weight", "bold").attr("font-size", 29).attr("fill", "#000")
  .text(d => d[0]);

const xLabels = [307, 800];
svg.selectAll(".xlabel").data(xLabels).join("text")
  .attr("class", "xlabel")
  .attr("x", d => d).attr("y", 768)
  .attr("text-anchor", "middle")
  .attr("font-size", 28.5).attr("fill", inkColor)
  .text("Drift (%)");

const yLabels = [["Drift ±0.95%", 46, 182], ["Nb of NaN (%)", 84, 182], ["Drift ±1.76%", 32, 560], ["Nb of NaN (%)", 70, 560]];
svg.selectAll(".ylabel").data(yLabels).join("text")
  .attr("class", "ylabel")
  .attr("transform", d => `translate(${d[1]},${d[2]}) rotate(-90)`)
  .attr("text-anchor", "middle")
  .attr("font-size", 28.5).attr("fill", inkColor)
  .text(d => d[0]);

// legend
const legend = svg.append("g");
legend.append("rect")
  .attr("x", 682).attr("y", 49.5).attr("width", 303).attr("height", 104.5)
  .attr("fill", "#fff").attr("stroke", inkColor).attr("stroke-width", 1.1);
const rows = legend.selectAll(".row").data(seriesNames).join("g")
  .attr("class", "row")
  .attr("transform", (d, i) => `translate(738,${69 + i * 32.4})`);
rows.append("circle").attr("r", dotRadius).attr("fill", (d, i) => seriesColors[i]);
rows.append("text")
  .attr("x", 55).attr("dy", "0.36em")
  .attr("font-size", 23.8).attr("fill", inkColor)
  .text(d => d);
</script>
</body>
</html>
